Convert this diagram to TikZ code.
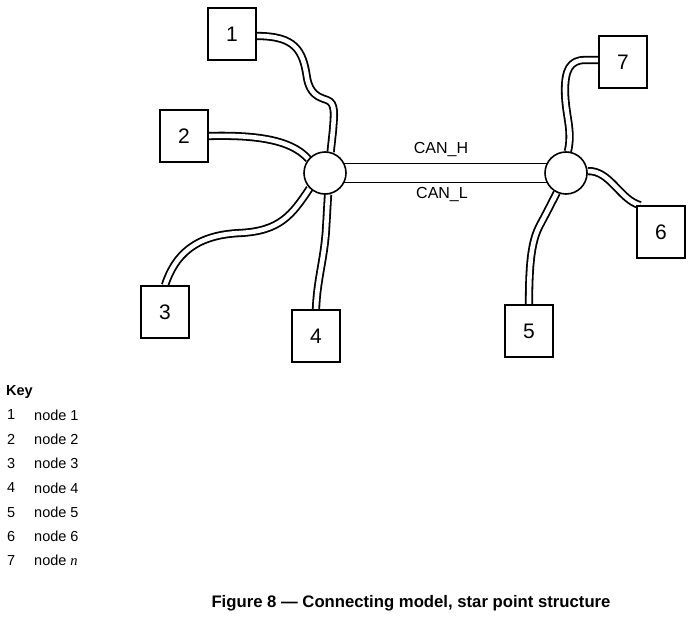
\documentclass[tikz,border=0pt]{standalone}
\usepackage{fontspec}
\setmainfont{Liberation Sans}
\newfontfamily\serifit{Liberation Serif}
\usetikzlibrary{backgrounds}
\begin{document}
\begin{tikzpicture}[x=1pt,y=1pt,
  unit/.style={draw,line width=1.6pt,fill=white,minimum width=48pt,minimum height=52pt,inner sep=0pt,font=\fontsize{21}{24}\selectfont},
  star/.style={draw,line width=1.6pt,fill=white,circle,minimum size=42pt,inner sep=0pt},
  cable/.style={draw,line width=1.8pt,double=white,double distance=4.6pt},
  bus/.style={draw,line width=1.8pt,double=white,double distance=17.2pt},
  lbl/.style={font=\fontsize{16}{19}\selectfont},
  keytxt/.style={anchor=west,inner sep=0pt,font=\fontsize{14.5}{17}\selectfont}]
\useasboundingbox (0,0) rectangle (688,-616);
% nodes
\node[unit] (n1) at (232,-34) {1};
\node[unit] (n2) at (184,-136) {2};
\node[unit] (n3) at (165,-312) {3};
\node[unit] (n4) at (316,-336) {4};
\node[unit] (n5) at (529,-331) {5};
\node[unit] (n6) at (661,-232) {6};
\node[unit] (n7) at (623,-62) {7};
\node[star] (s1) at (325,-173) {};
\node[star] (s2) at (566,-173) {};
\node[lbl] (canh) at (441,-150) {CAN\_H};
\node[lbl] (canl) at (442,-195) {CAN\_L};
% connectors
\begin{pgfonlayer}{background}
\draw[bus] (s1.center) -- (s2.center);
\draw[cable] ([yshift=-2pt]n1.east) .. controls (295,-36) and (303,-50) .. (307,-78)
  .. controls (310,-94) and (318,-97) .. (327,-100)
  .. controls (336,-103) and (334,-115) .. (333,-130) -- (s1.75);
\draw[cable] (n2.east) .. controls (250,-135) and (290,-138) .. (s1.140);
\draw[cable] (n3.north) .. controls (175,-255) and (195,-235) .. (240,-233)
  .. controls (280,-231) and (292,-215) .. (s1.225);
\draw[cable] (n4.north) .. controls (317,-280) and (324,-260) .. (326,-230) -- (s1.278);
\draw[cable] ([yshift=2pt]n7.west) -- (585,-60) .. controls (570,-60) and (565,-70) .. (565,-90)
  .. controls (565,-115) and (573,-130) .. (s2.85);
\draw[cable] (s2.5) .. controls (610,-170) and (620,-200) .. ([xshift=4pt]n6.north west);
\draw[cable] (n5.north) .. controls (529,-260) and (532,-240) .. (540,-225)
  .. controls (547,-212) and (553,-200) .. (s2.245);
\end{pgfonlayer}
% key
\node[keytxt,font=\fontsize{14.5}{17}\selectfont\bfseries] (key) at (6,-392) {Key};
\foreach \i/\t [count=\k] in {1/node 1,2/node 2,3/node 3,4/node 4,5/node 5,6/node 6,7/node {\serifit\itshape n}}{
  \node[keytxt] (kn\k) at (7,{-415-24.3*(\k-1)}) {\i};
  \node[keytxt] (kt\k) at (34,{-415-24.3*(\k-1)}) {\t};
}
\node[font=\fontsize{16.7}{19}\selectfont\bfseries] (cap) at (411,-603) {Figure 8 — Connecting model, star point structure};
\end{tikzpicture}
\end{document}
